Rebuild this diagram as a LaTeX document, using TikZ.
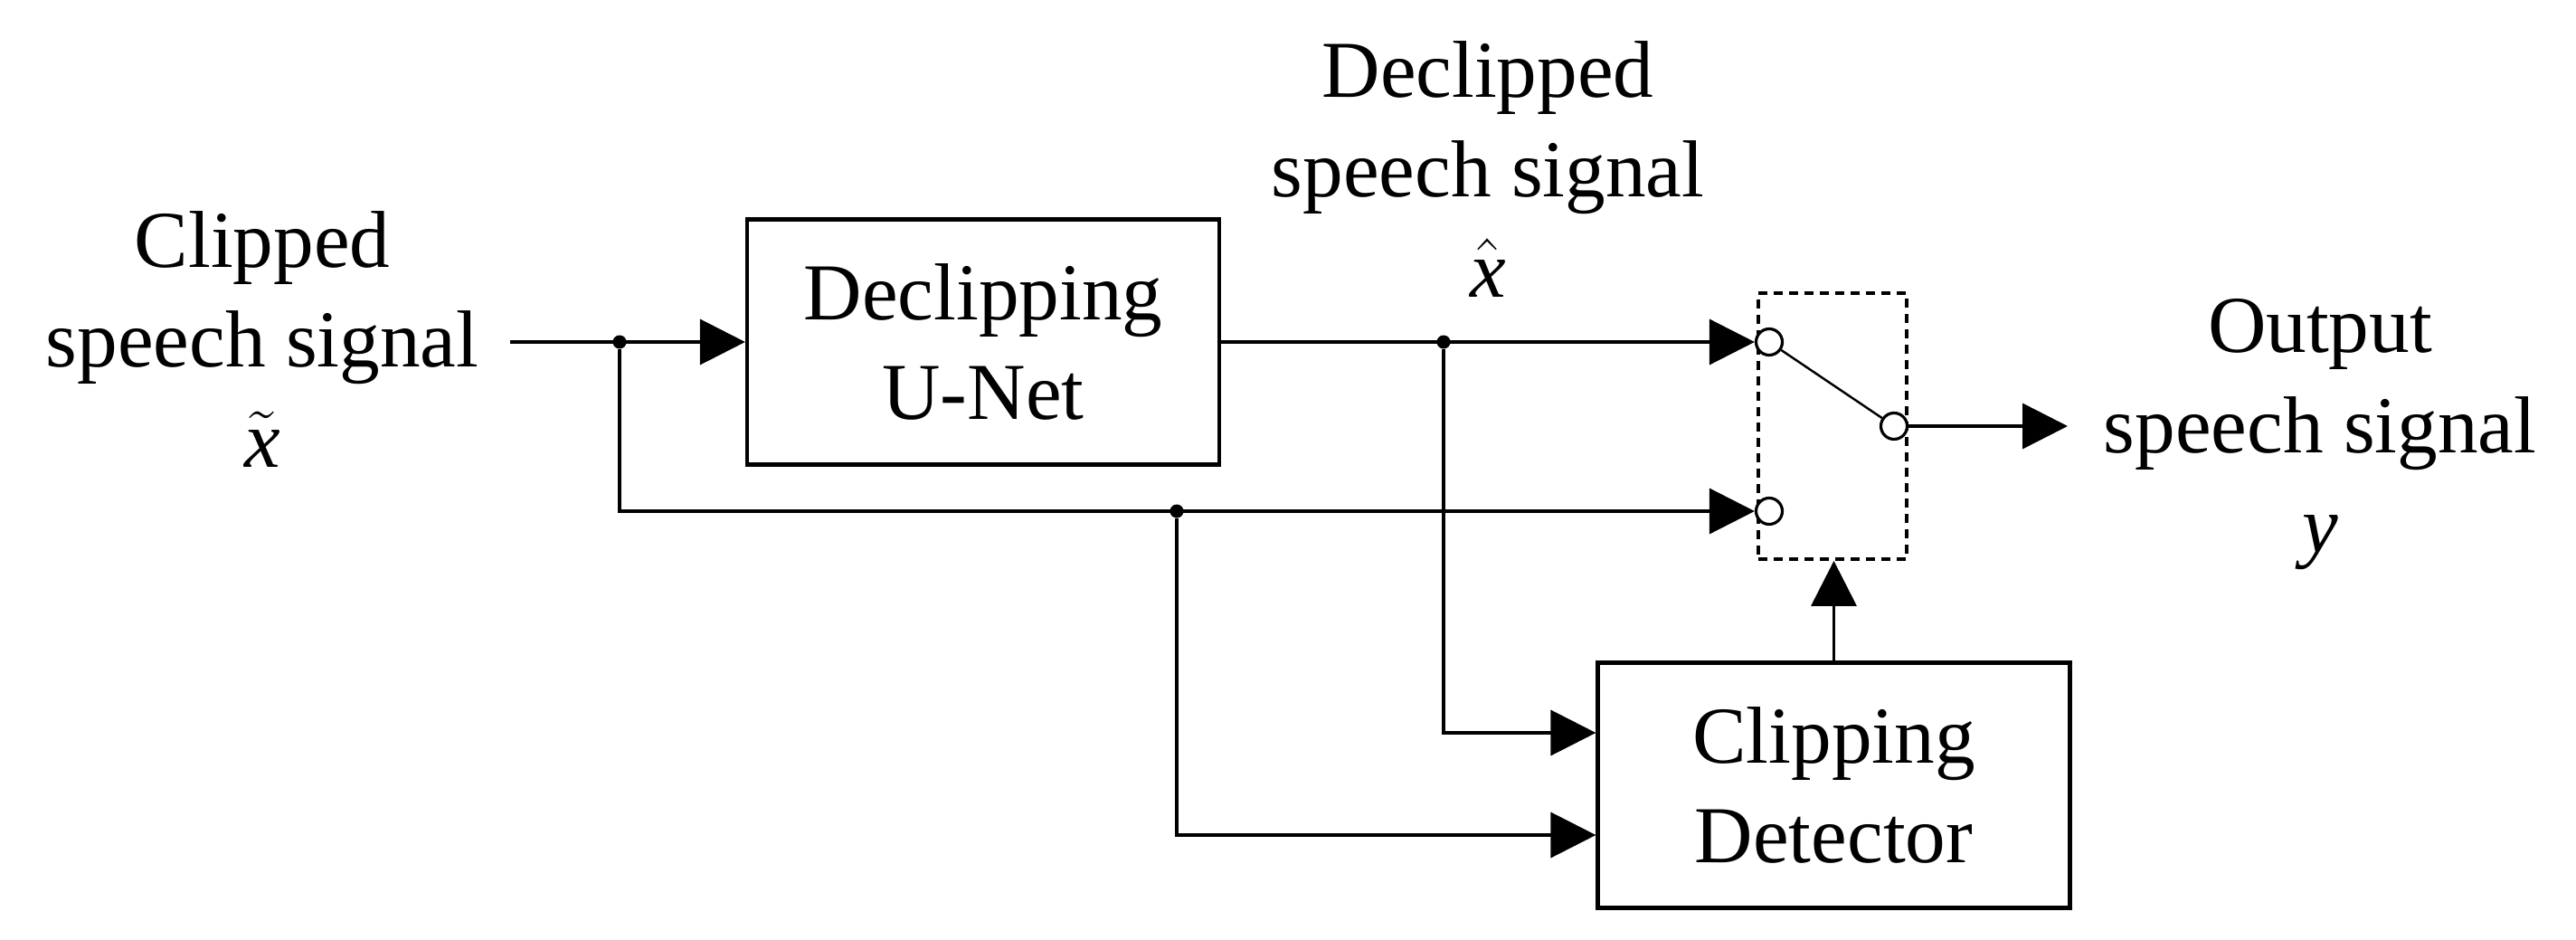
\documentclass[tikz,border=0pt]{standalone}
\usepackage{fontspec}
\setmainfont{Liberation Serif}
\usepackage{amsmath}
\usetikzlibrary{arrows.meta}
\newcommand{\bigtxt}{\fontsize{25.4}{31.3}\selectfont}

\begin{document}
\begin{tikzpicture}[
  blk/.style={draw, line width=1.2pt, minimum width=5.22cm, minimum height=2.71cm, align=center, font=\bigtxt},
  sig/.style={draw, line width=1pt},
  arr/.style={sig, -{Triangle[length=5mm,width=5mm]}},
  dot/.style={circle, fill, inner sep=0pt, minimum size=1.5mm},
  port/.style={circle, draw, fill=white, line width=0.9pt, inner sep=0pt, minimum size=2.9mm},
  lbl/.style={align=center, font=\bigtxt, anchor=base}
]
\useasboundingbox (0,0) rectangle (28.48,10.38);
\node[blk] (dec) at (10.87,6.60) {Declipping\\U-Net};
\node[blk] (det) at (20.275,1.70) {Clipping\\Detector};
\node[draw, line width=1.1pt, dash pattern=on 1mm off 0.7mm, minimum width=1.64cm, minimum height=2.94cm] (sw) at (20.26,5.67) {};
\node[port] (p1) at (19.56,6.60) {};
\node[port] (p2) at (19.56,4.73) {};
\node[port] (p3) at (20.94,5.67) {};
\node[dot] (j1) at (6.85,6.60) {};
\node[dot] (j2) at (15.96,6.60) {};
\node[dot] (j3) at (13.01,4.73) {};
\coordinate (in) at (5.64,6.60);
\coordinate (out) at (22.86,5.67);
\node[lbl] (lin) at (2.90,5.22) {Clipped\\speech signal\\$\tilde{\textit{x}}$};
\node[lbl] (lmid) at (16.45,7.10) {Declipped\\speech signal\\$\hat{\textit{x}}$};
\node[lbl] (lout) at (25.65,4.28) {Output\\speech signal\\\textit{y}};
\path[arr] (in) -- (dec.west);
\path[arr] (dec.east) -- (p1.west);
\path[arr] (j1) |- (p2.west);
\path[arr] (j2) |- ([yshift=5.8mm]det.west);
\path[arr] (j3) |- ([yshift=-5.5mm]det.west);
\path[arr] (det.north) -- (det.north |- sw.south);
\path[draw, line width=0.7pt] (p1) -- (p3);
\path[arr] (p3) -- (out);
\end{tikzpicture}
\end{document}
